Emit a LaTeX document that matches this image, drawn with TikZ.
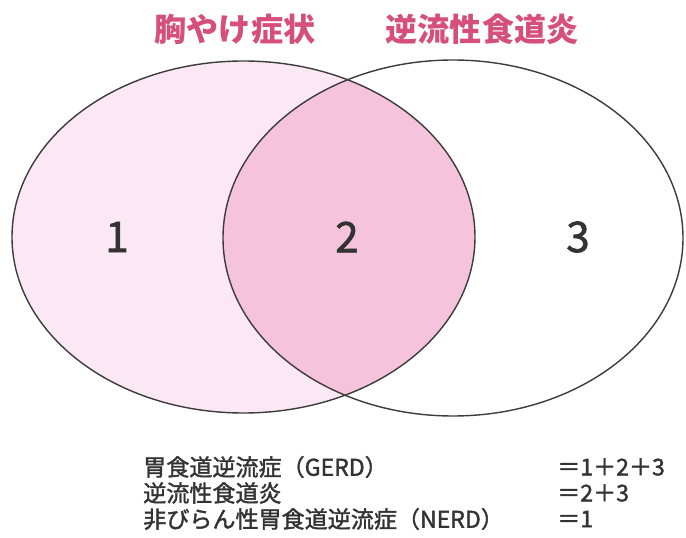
\documentclass[tikz,border=0pt]{standalone}
\usepackage{fontspec}
\setmainfont{Noto Sans CJK JP}
\newfontfamily\jpmedium{Noto Sans CJK JP}[FakeBold=1.6]
\definecolor{vnpink}{HTML}{D64F7A}
\definecolor{vnlight}{HTML}{FCE8F5}
\definecolor{vnboth}{HTML}{F5C4DC}
\definecolor{vnline}{HTML}{3C3C3C}
\definecolor{vntext}{HTML}{333333}

\begin{document}
\begin{tikzpicture}[
            x=0.025cm, y=0.025cm,
            title/.style={font=\fontsize{22.8}{24}\selectfont\bfseries, text=vnpink},
            region/.style={font=\jpmedium\fontsize{30}{32}\selectfont, text=vntext},
            legend/.style={font=\jpmedium\fontsize{16.4}{18}\selectfont, text=vntext, anchor=west, inner sep=0pt},
            outline/.style={draw=vnline, line width=1pt}
        ]
            \useasboundingbox (0,0) rectangle (686,-538);

            % Sets
            \coordinate (heart) at (243.5,-237);
            \coordinate (eso) at (453,-238);
            \fill[vnlight] (heart) ellipse [x radius=231.5, y radius=176];
            \begin{scope}
                \clip (heart) ellipse [x radius=231.5, y radius=176];
                \fill[vnboth] (eso) ellipse [x radius=230, y radius=178];
            \end{scope}
            \draw[outline] (heart) ellipse [x radius=231.5, y radius=176];
            \draw[outline] (eso) ellipse [x radius=230, y radius=178];

            % Titles
            \node[title] (t1) at (235,-29) {胸やけ症状};
            \node[title] (t2) at (482,-29) {逆流性食道炎};

            % Regions
            \node[region] (r1) at (117,-237) {1};
            \node[region] (r2) at (347,-237) {2};
            \node[region] (r3) at (578,-237) {3};

            % Legend
            \node[legend] (l1) at (143,-467) {胃食道逆流症（GERD）};
            \node[legend] (l2) at (143,-493) {逆流性食道炎};
            \node[legend] (l3) at (143,-519) {非びらん性胃食道逆流症（NERD）};
            \node[legend] (e1) at (557,-467) {＝1＋2＋3};
            \node[legend] (e2) at (557,-493) {＝2＋3};
            \node[legend] (e3) at (557,-519) {＝1};
        \end{tikzpicture}
\end{document}
